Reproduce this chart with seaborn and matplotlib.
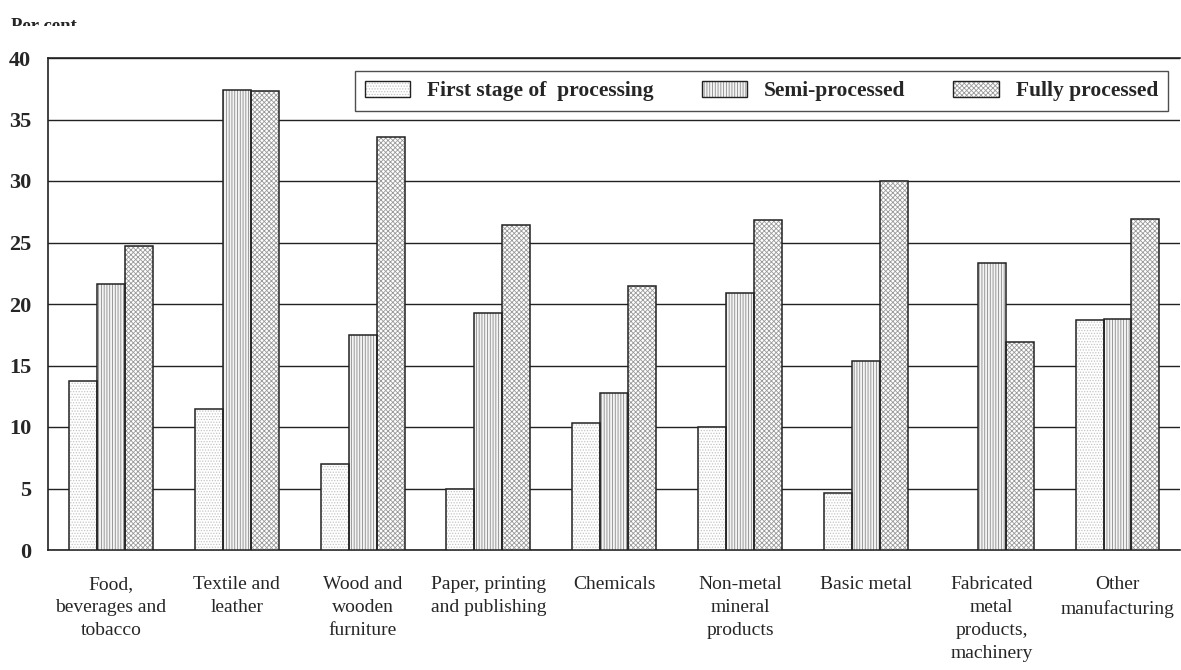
import matplotlib
matplotlib.use("Agg")
import matplotlib.pyplot as plt
import seaborn as sns
import pandas as pd
from matplotlib.patches import Rectangle, Patch
from matplotlib.legend_handler import HandlerTuple

categories = ["Food,\nbeverages and\ntobacco", "Textile and\nleather", "Wood and\nwooden\nfurniture",
              "Paper, printing\nand publishing", "Chemicals", "Non-metal\nmineral\nproducts",
              "Basic metal", "Fabricated\nmetal\nproducts,\nmachinery", "Other\nmanufacturing"]
stages = ["First stage of  processing", "Semi-processed", "Fully processed"]
first_stage = [13.7, 11.5, 7.0, 5.0, 10.3, 10.0, 4.6, 0.0, 18.7]
semi_processed = [21.6, 37.4, 17.5, 19.3, 12.8, 20.9, 15.4, 23.3, 18.8]
fully_processed = [24.7, 37.3, 33.6, 26.4, 21.5, 26.8, 30.0, 16.9, 26.9]
yticks = [0, 5, 10, 15, 20, 25, 30, 35, 40]

rows = []
for s, vals in zip(stages, [first_stage, semi_processed, fully_processed]):
    for c, v in zip(categories, vals):
        rows.append({"category": c, "stage": s, "value": v})
df = pd.DataFrame(rows)

sns.set_style("white")
plt.rcParams["font.family"] = ["Liberation Serif", "DejaVu Serif"]
plt.rcParams["hatch.linewidth"] = 0.6

fig = plt.figure(figsize=(11.81, 6.70), dpi=100)
ax = fig.add_axes([48 / 1181, 120 / 670, 1 - 48 / 1181 - 0.0005, 492 / 670])

faces = ["#ffffff", "#f4f4f4", "#ffffff"]
hatch_cols = ["#c4c4c4", "#8a8a8a", "#9a9a9a"]
hatches = ["......", "||||||", "xxxxxxx"]

sns.barplot(data=df, x="category", y="value", hue="stage", order=categories,
            hue_order=stages, palette=faces, width=0.667, gap=0, ax=ax,
            legend=False, errorbar=None, zorder=3)

for cont, h, hc in zip(ax.containers, hatches, hatch_cols):
    for p in cont.patches:
        p.set_hatch(h)
        p.set_edgecolor(hc)
        p.set_linewidth(0)
        if p.get_height() > 0:
            ax.add_patch(Rectangle(p.get_xy(), p.get_width(), p.get_height(), fill=False,
                                   edgecolor="#222222", linewidth=1.1, zorder=4))

ax.set_ylim(0, 40)
ax.set_xlim(-0.5, len(categories) - 0.5)
ax.set_yticks(yticks)
ax.set_yticklabels([str(t) for t in yticks], fontweight="bold", fontsize=16)
ax.yaxis.grid(True, color="#222222", linewidth=1.0, zorder=0)
ax.set_axisbelow(True)
ax.set_xlabel("")
ax.set_ylabel("")
ax.tick_params(axis="x", which="major", length=0, labelsize=14, pad=19)
for lab in ax.get_xticklabels():
    lab.set_linespacing(1.45)
    lab.set_verticalalignment("top")
ax.set_xticks([i + 0.5 for i in range(-1, len(categories))], minor=True)
ax.tick_params(axis="x", which="minor", length=11, direction="inout", width=1, color="#222222")
ax.tick_params(axis="y", length=5, direction="in", width=1, color="#222222", pad=12)
for s in ["left", "bottom", "top"]:
    ax.spines[s].set_visible(True)
    ax.spines[s].set_color("#222222")
    ax.spines[s].set_linewidth(1.2)
ax.spines["right"].set_visible(False)

handles = []
for f, h, hc in zip(faces, hatches, hatch_cols):
    handles.append((Patch(facecolor=f, edgecolor=hc, hatch=h, linewidth=0),
                    Patch(fill=False, edgecolor="#222222", linewidth=1.0)))
leg = ax.legend(handles, stages, handler_map={tuple: HandlerTuple(ndivide=1, pad=0)},
                loc="lower left", bbox_to_anchor=(0.271, 0.892, 0.718, 0.084),
                mode="expand", ncol=3, borderaxespad=0, frameon=True, fancybox=False,
                handlelength=2.1, handleheight=0.75, handletextpad=0.8, borderpad=0.45,
                prop={"weight": "bold", "size": 15.5})
leg.get_frame().set_edgecolor("#222222")
leg.get_frame().set_linewidth(1.0)

fig.text(11 / 1181, 1 - 18 / 670, "Per cent", ha="left", va="top",
         fontweight="bold", fontsize=13.5)
fig.add_artist(Rectangle((0, 1 - 42 / 670), 0.3, 16 / 670, transform=fig.transFigure,
                         facecolor="white", edgecolor="none", zorder=10))

fig.savefig("out.png", dpi=100)
